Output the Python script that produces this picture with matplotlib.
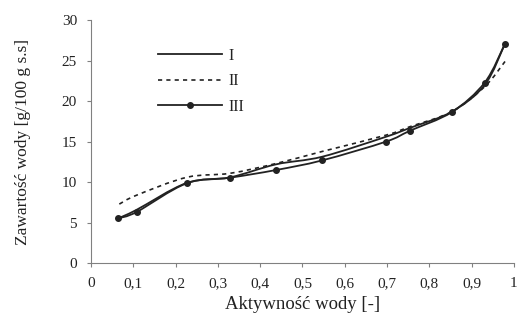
import matplotlib
matplotlib.use("Agg")
import matplotlib.pyplot as plt
from matplotlib.ticker import FuncFormatter, MultipleLocator
from matplotlib.path import Path
from matplotlib.patches import PathPatch
from matplotlib.lines import Line2D

plt.rcParams['font.family'] = ['Liberation Serif', 'DejaVu Serif']

aw = [0.065, 0.108, 0.226, 0.329, 0.437, 0.547, 0.697, 0.754, 0.853, 0.931, 0.979]
series_I = [5.55, 6.6, 9.9, 10.6, 12.2, 13.15, 15.6, 16.7, 18.7, 22.0, 27.1]
aw_II = [0.067, 0.108, 0.226, 0.329, 0.437, 0.547, 0.697, 0.754, 0.853, 0.931, 0.979]
series_II = [7.3, 8.4, 10.6, 11.1, 12.3, 13.8, 15.8, 16.85, 18.7, 21.8, 24.9]
series_III = [5.55, 6.33, 9.86, 10.56, 11.5, 12.7, 15.0, 16.35, 18.65, 22.3, 27.1]
labels = ["I", "II", "III"]
xlabel = "Aktywność wody [-]"
ylabel = "Zawartość wody [g/100 g s.s]"


def smooth_path(xs, ys):
    """Excel-like smoothed line: cubic Bezier segments through the data points."""
    n = len(xs)
    verts = [(xs[0], ys[0])]
    codes = [Path.MOVETO]
    for i in range(n - 1):
        x0, y0 = (xs[i - 1], ys[i - 1]) if i > 0 else (xs[i], ys[i])
        x1, y1 = xs[i], ys[i]
        x2, y2 = xs[i + 1], ys[i + 1]
        x3, y3 = (xs[i + 2], ys[i + 2]) if i + 2 < n else (x2, y2)
        c1 = (x1 + (x2 - x0) / 6, y1 + (y2 - y0) / 6)
        c2 = (x2 - (x3 - x1) / 6, y2 - (y3 - y1) / 6)
        verts += [c1, c2, (x2, y2)]
        codes += [Path.CURVE4] * 3
    return Path(verts, codes)


fig = plt.figure(figsize=(5.17, 3.25), dpi=100)
ax = fig.add_axes([0.176, 0.19, 0.818, 0.748])

col = "#222222"
styles = [
    dict(lw=1.3, ls="-"),
    dict(lw=1.2, ls=(0, (2.5, 2.5))),
    dict(lw=1.3, ls="-"),
]
data = [(aw, series_I), (aw_II, series_II), (aw, series_III)]
for (xs, ys), st in zip(data, styles):
    ax.add_patch(PathPatch(smooth_path(xs, ys), fill=False, edgecolor=col,
                           lw=st["lw"], ls=st["ls"], capstyle="butt"))
ax.plot(aw, series_III, ls="none", marker="o", ms=4, color=col)

handles = [
    Line2D([], [], color=col, lw=1.3),
    Line2D([], [], color=col, lw=1.2, ls=(0, (2.5, 2.5))),
    Line2D([], [], color=col, lw=1.3, marker="o", ms=4),
]

ax.set_xlim(0, 1)
ax.set_ylim(0, 30)
ax.xaxis.set_major_locator(MultipleLocator(0.1))
ax.yaxis.set_major_locator(MultipleLocator(5))
ax.xaxis.set_major_formatter(FuncFormatter(lambda v, p: ("%g" % round(v, 1)).replace(".", ",")))
for s in ["top", "right"]:
    ax.spines[s].set_visible(False)
for s in ["left", "bottom"]:
    ax.spines[s].set_color("#808080")
    ax.spines[s].set_linewidth(0.8)
ax.tick_params(direction="out", length=3, width=0.8, color="#808080", labelsize=11, labelcolor="#222222", pad=7)
ax.set_xlabel(xlabel, fontsize=13.5, color="#222222", labelpad=4)
ax.set_ylabel(ylabel, fontsize=12.5, color="#222222", labelpad=22)

leg = ax.legend(handles, labels, loc="upper left", bbox_to_anchor=(0.139, 0.92), frameon=False, fontsize=11.5,
                handlelength=4.0, handletextpad=0.45, labelspacing=0.6, borderpad=0)
for t in leg.get_texts():
    t.set_color("#222222")

fig.savefig("out.png", dpi=100)
